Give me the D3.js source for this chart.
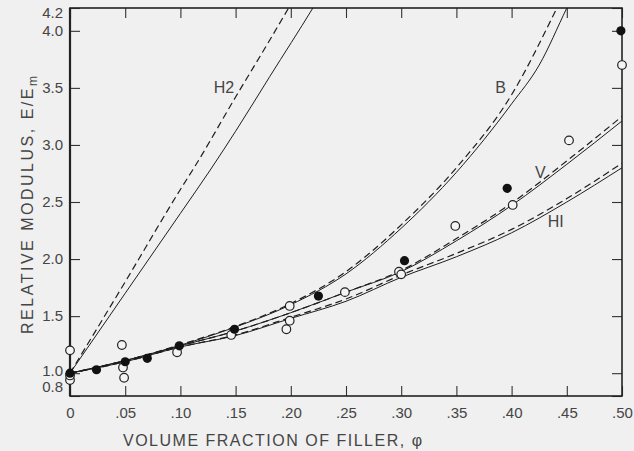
<!DOCTYPE html>
<html lang="en">
<head>
<meta charset="UTF-8">
<title>relative modulus</title>
<script src="https://d3js.org/d3.v7.min.js"></script>
<style>
    html, body { margin: 0; padding: 0; background: #f0f0f0; }
    svg { display: block; }
    text { font-family: "Liberation Sans", "DejaVu Sans", sans-serif; fill: #454545; }
</style>
</head>
<body>
<script>
    // tick values
    const xTicks = [0, .05, .10, .15, .20, .25, .30, .35, .40, .45, .50];
    const yTicks = [0.8, 1.0, 1.5, 2.0, 2.5, 3.0, 3.5, 4.0, 4.2];

    // theory curves, [phi, E/Em]
    const h2Dashed = [[0, 1], [.05, 1.80], [.10, 2.61], [.113, 2.81], [.15, 3.42], [.181, 3.92], [.198, 4.2], [.21, 4.4]];
    const h2Solid  = [[0, 1], [.05, 1.70], [.10, 2.40], [.127, 2.78], [.15, 3.12], [.181, 3.60], [.22, 4.2], [.23, 4.36]];
    const bDashed  = [[0, 1], [.05, 1.11], [.10, 1.25], [.15, 1.41], [.20, 1.61], [.25, 1.89], [.30, 2.30], [.35, 2.80], [.40, 3.44], [.441, 4.2], [.45, 4.38]];
    const bSolid   = [[0, 1], [.05, 1.11], [.10, 1.245], [.15, 1.405], [.20, 1.60], [.25, 1.87], [.30, 2.27], [.35, 2.76], [.40, 3.36], [.425, 3.70], [.45, 4.2], [.46, 4.4]];
    const vDashed  = [[0, 1], [.05, 1.11], [.10, 1.24], [.15, 1.37], [.20, 1.53], [.25, 1.71], [.30, 1.90], [.35, 2.18], [.40, 2.49], [.45, 2.86], [.50, 3.25]];
    const vSolid   = [[0, 1], [.05, 1.11], [.10, 1.24], [.15, 1.37], [.20, 1.53], [.25, 1.71], [.30, 1.89], [.35, 2.16], [.40, 2.47], [.45, 2.83], [.50, 3.21]];
    const h1Dashed = [[0, 1], [.05, 1.10], [.10, 1.23], [.15, 1.335], [.20, 1.49], [.25, 1.65], [.30, 1.86], [.35, 2.05], [.40, 2.26], [.45, 2.53], [.50, 2.84]];
    const h1Solid  = [[0, 1], [.05, 1.10], [.10, 1.23], [.15, 1.33], [.20, 1.48], [.25, 1.63], [.30, 1.84], [.35, 2.02], [.40, 2.23], [.45, 2.50], [.50, 2.80]];

    // measured points
    const openPts = [[0, 1.20], [0, 0.94], [0, 0.98], [.047, 1.247], [.048, 1.05], [.049, 0.96], [.097, 1.183],
        [.146, 1.335], [.196, 1.385], [.199, 1.46], [.199, 1.589], [.249, 1.71], [.298, 1.889], [.30, 1.866],
        [.349, 2.29], [.401, 2.474], [.452, 3.04], [.50, 3.70]];
    const filledPts = [[0, 1.0], [.024, 1.03], [.05, 1.10], [.07, 1.13], [.099, 1.24], [.149, 1.385],
        [.225, 1.676], [.303, 1.986], [.396, 2.62], [.499, 4.0]];

    // curve names and where they sit
    const curveNames = ["H2", "B", "V", "HI"];
    const nameAt = [[.1395, 3.50], [.39, 3.50], [.426, 2.76], [.44, 2.33]];

    const width = 634, height = 451;
    const mLeft = 70, mRight = 622, mTop = 8, mBottom = 396;

    const x = d3.scaleLinear().domain([0, 0.5]).range([mLeft, mRight]);
    const y = d3.scaleLinear().domain([0.8, 4.2]).range([mBottom, mTop]);

    const svg = d3.select("body").append("svg")
        .attr("width", width)
        .attr("height", height);

    svg.append("clipPath").attr("id", "plot")
        .append("rect")
        .attr("x", mLeft).attr("y", mTop)
        .attr("width", mRight - mLeft).attr("height", mBottom - mTop);

    const fmtX = d => d === 0 ? "0" : d3.format(".2f")(d).replace(/^0/, "");

    // bottom axis, ticks inward
    const gx = svg.append("g")
        .attr("transform", `translate(0,${mBottom})`)
        .call(d3.axisBottom(x).tickValues(xTicks).tickFormat(fmtX).tickSizeInner(-10).tickSizeOuter(0).tickPadding(11));
    gx.selectAll("text").style("font-size", "15px");

    // top axis, ticks only
    svg.append("g")
        .attr("transform", `translate(0,${mTop})`)
        .call(d3.axisTop(x).tickValues(xTicks).tickFormat("").tickSizeInner(-10).tickSizeOuter(0));

    // left axis
    const labelShift = {"4.2": 5, "1.0": -2, "0.8": -9};
    const gy = svg.append("g")
        .attr("transform", `translate(${mLeft},0)`)
        .call(d3.axisLeft(y).tickValues(yTicks).tickFormat(d3.format(".1f")).tickSizeInner(-10).tickSizeOuter(0).tickPadding(7));
    gy.selectAll("text")
        .style("font-size", "15px")
        .attr("y", d => labelShift[d3.format(".1f")(d)] || 0);

    // right axis, ticks only
    svg.append("g")
        .attr("transform", `translate(${mRight},0)`)
        .call(d3.axisRight(y).tickValues(yTicks).tickFormat("").tickSizeInner(-10).tickSizeOuter(0));

    svg.selectAll(".domain").remove();
    svg.selectAll(".tick line").attr("stroke", "#333").attr("stroke-width", 1.1);

    // frame
    svg.append("rect")
        .attr("x", mLeft).attr("y", mTop)
        .attr("width", mRight - mLeft).attr("height", mBottom - mTop)
        .attr("fill", "none")
        .attr("stroke", "#222")
        .attr("stroke-width", 1.6);
    svg.append("line")
        .attr("x1", mLeft).attr("x2", mLeft)
        .attr("y1", mTop).attr("y2", mBottom)
        .attr("stroke", "#222")
        .attr("stroke-width", 2.2);

    const line = d3.line()
        .x(d => x(d[0]))
        .y(d => y(d[1]))
        .curve(d3.curveMonotoneX);

    const curves = [
        [h2Dashed, true], [h2Solid, false],
        [bDashed, true], [bSolid, false],
        [vDashed, true], [vSolid, false],
        [h1Dashed, true], [h1Solid, false]
    ];

    svg.append("g")
        .attr("clip-path", "url(#plot)")
        .selectAll("path")
        .data(curves)
        .join("path")
        .attr("d", d => line(d[0]))
        .attr("fill", "none")
        .attr("stroke", "#1e1e1e")
        .attr("stroke-width", d => d[1] ? 1.2 : 1)
        .attr("stroke-dasharray", d => d[1] ? "7,4" : null);

    // points
    svg.append("g")
        .selectAll("circle")
        .data(openPts)
        .join("circle")
        .attr("cx", d => x(d[0]))
        .attr("cy", d => y(d[1]))
        .attr("r", 4.3)
        .attr("fill", "#f4f4f4")
        .attr("stroke", "#222")
        .attr("stroke-width", 1.2);

    svg.append("g")
        .selectAll("circle")
        .data(filledPts)
        .join("circle")
        .attr("cx", d => x(d[0]))
        .attr("cy", d => y(d[1]))
        .attr("r", 4.6)
        .attr("fill", "#111");

    // curve labels
    svg.append("g")
        .selectAll("text")
        .data(curveNames)
        .join("text")
        .attr("x", (d, i) => x(nameAt[i][0]))
        .attr("y", (d, i) => y(nameAt[i][1]))
        .attr("text-anchor", "middle")
        .attr("dy", "0.35em")
        .style("font-size", "16px")
        .text(d => d);

    // axis titles
    svg.append("text")
        .attr("x", 123)
        .attr("y", 446)
        .attr("textLength", 299)
        .attr("lengthAdjust", "spacing")
        .style("font-size", "16px")
        .text("VOLUME FRACTION OF FILLER, φ");

    const yt = svg.append("text")
        .attr("transform", "translate(27,205) rotate(-90)")
        .attr("text-anchor", "middle")
        .attr("dy", "0.35em")
        .attr("textLength", 258)
        .attr("lengthAdjust", "spacing")
        .style("font-size", "16px");
    yt.append("tspan").text("RELATIVE MODULUS, E/E");
    yt.append("tspan").attr("dy", "4").style("font-size", "12px").text("m");
</script>
</body>
</html>
